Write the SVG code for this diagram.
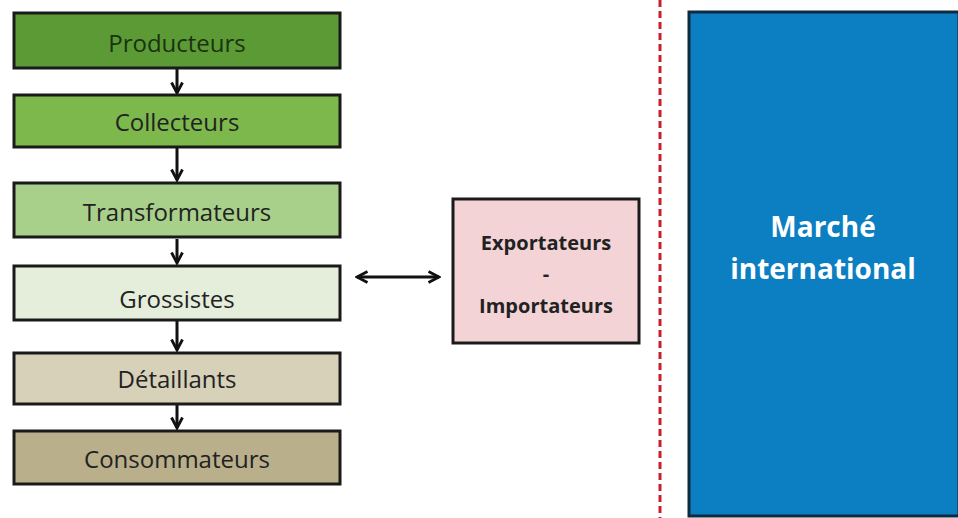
<svg xmlns="http://www.w3.org/2000/svg" width="958" height="518" viewBox="0 0 958 518">
<style>
.box{stroke:#1a1a1a;stroke-width:3}
.lbl{font-family:"Open Sans","Liberation Sans",sans-serif;font-size:24px;fill:#222;text-anchor:middle;dominant-baseline:central}
.b{font-weight:bold;font-size:20px}
.w{font-weight:bold;font-size:28px;fill:#fff}
.con{stroke:#111;stroke-width:3;fill:none}
</style>
<defs>
<marker id="ah" viewBox="0 0 14 14" refX="12" refY="7" markerWidth="14" markerHeight="14" markerUnits="userSpaceOnUse" orient="auto-start-reverse">
<path d="M1.5,1.5 L12,7 L1.5,12.5" fill="none" stroke="#111" stroke-width="2.8"/>
</marker>
</defs>
<rect width="958" height="518" fill="#fff"/>
<g id="connectors">
<line class="con" x1="177" y1="69" x2="177" y2="93" marker-end="url(#ah)"/>
<line class="con" x1="177" y1="148" x2="177" y2="180" marker-end="url(#ah)"/>
<line class="con" x1="177" y1="239" x2="177" y2="263" marker-end="url(#ah)"/>
<line class="con" x1="177" y1="321" x2="177" y2="350" marker-end="url(#ah)"/>
<line class="con" x1="177" y1="405" x2="177" y2="428" marker-end="url(#ah)"/>
<line class="con" x1="357" y1="277" x2="439" y2="277" marker-start="url(#ah)" marker-end="url(#ah)"/>
<line x1="660" y1="0" x2="660" y2="518" stroke="#c8202c" stroke-width="3" stroke-dasharray="7,4"/>
</g>
<g id="producteurs"><rect class="box" x="14" y="13" width="326" height="55" fill="#5b9a35"/><text class="lbl" x="177" y="42" style="fill:#1a3310">Producteurs</text></g>
<g id="collecteurs"><rect class="box" x="14" y="95" width="326" height="52" fill="#7db84d"/><text class="lbl" x="177" y="121">Collecteurs</text></g>
<g id="transformateurs"><rect class="box" x="14" y="183" width="326" height="54" fill="#a8d08a"/><text class="lbl" x="177" y="211">Transformateurs</text></g>
<g id="grossistes"><rect class="box" x="14" y="266" width="326" height="54" fill="#e5eddb"/><text class="lbl" x="177" y="298">Grossistes</text></g>
<g id="detaillants"><rect class="box" x="14" y="353" width="326" height="51" fill="#d7d1b9"/><text class="lbl" x="177" y="378">Détaillants</text></g>
<g id="consommateurs"><rect class="box" x="14" y="431" width="326" height="53" fill="#b9af8a"/><text class="lbl" x="177" y="458">Consommateurs</text></g>
<g id="exportateurs"><rect class="box" x="453" y="199" width="186" height="144" fill="#f3d3d6"/>
<text class="lbl b" x="546" y="242">Exportateurs</text>
<text class="lbl b" x="546" y="273">-</text>
<text class="lbl b" x="546" y="305">Importateurs</text></g>
<g id="marche"><rect x="689" y="12" width="270" height="504" fill="#0b7fc1" stroke="#0d2a3e" stroke-width="3"/>
<text class="lbl w" x="823" y="226">Marché</text>
<text class="lbl w" x="823" y="268">international</text></g>
</svg>
